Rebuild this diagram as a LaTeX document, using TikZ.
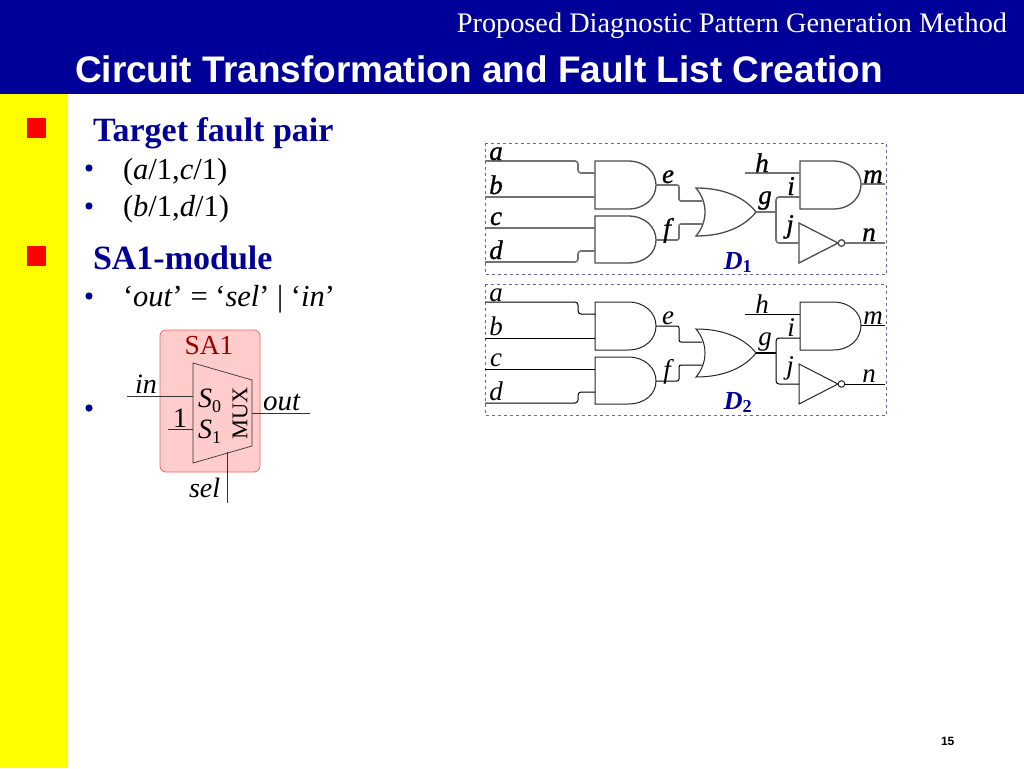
\documentclass[tikz,border=0pt]{standalone}
\usepackage{fontspec}
\setmainfont{Liberation Serif}
\setsansfont{Liberation Sans}
\newfontfamily\heavyserif[FakeBold=1.0]{Liberation Serif}
\definecolor{hdrblue}{HTML}{000099}
\definecolor{sabox}{HTML}{FFCCCC}
\definecolor{saedge}{HTML}{EE6666}
\definecolor{sared}{HTML}{990000}
\definecolor{dashblue}{HTML}{6666AA}
\definecolor{sideyellow}{HTML}{FFFF00}
\newcommand{\fsz}[1]{\fontsize{#1}{#1}\selectfont}
\tikzset{
  txt/.style={inner sep=0pt,outer sep=0pt,anchor=base west},
  ctxt/.style={inner sep=0pt,outer sep=0pt,anchor=base},
  gateline/.style={line width=1pt,draw=black!85},
  wire/.style={line width=1pt,draw=black},
  lab/.style={ctxt,font=\fsz{27}\itshape},
  pics/circuit/.style={code={
    \draw[dashed,draw=dashblue,line width=0.7pt] (485,143) rectangle (886,274.5);
    % pins
    \coordinate (-a) at (485,161); \coordinate (-b) at (485,197);
    \coordinate (-c) at (485,228); \coordinate (-d) at (485,262);
    \coordinate (-h) at (745,173);
    \coordinate (-a1) at (595,173); \coordinate (-a2) at (595,197);
    \coordinate (-b1) at (595,228); \coordinate (-b2) at (595,251);
    \coordinate (-ao) at (656,185); \coordinate (-bo) at (656,240);
    \coordinate (-o1) at (702,201); \coordinate (-o2) at (702,224);
    \coordinate (-oo) at (756,212); \coordinate (-fork) at (776,212);
    \coordinate (-c1) at (800,173); \coordinate (-c2) at (800,197);
    \coordinate (-co) at (861,184); \coordinate (-m) at (885,184);
    \coordinate (-ni) at (799,243); \coordinate (-no) at (845,243); \coordinate (-n) at (885,243);
    % gates
    \draw[gateline] (595,161) -- (628,161) .. controls (645,161) and (656,172) .. (-ao) .. controls (656,198) and (645,209) .. (628,209) -- (595,209) -- cycle;
    \draw[gateline] (595,216) -- (628,216) .. controls (645,216) and (656,227) .. (-bo) .. controls (656,253) and (645,263) .. (628,263) -- (595,263) -- cycle;
    \draw[gateline] (800,161) -- (833,161) .. controls (850,161) and (861,172) .. (-co) .. controls (861,198) and (850,209) .. (833,209) -- (800,209) -- cycle;
    \draw[gateline] (696,188) .. controls (725,188) and (745,198) .. (-oo) .. controls (745,226) and (725,236) .. (696,236) .. controls (708,222) and (708,202) .. (696,188) -- cycle;
    \draw[gateline] (799,223) -- (838,243) -- (799,263) -- cycle;
    \draw[gateline,fill=white] (841.5,243) circle (3.3);
    % wires
    \draw[wire,rounded corners=3pt] (-a) -- (578,161) -- (578,173) -- (-a1);
    \draw[wire] (-b) -- (-a2);
    \draw[wire] (-c) -- (-b1);
    \draw[wire,rounded corners=3pt] (-d) -- (578,262) -- (578,251) -- (-b2);
    \draw[wire,rounded corners=2pt] (-ao) -- (679,185) -- (679,201) -- (-o1);
    \draw[wire,rounded corners=2pt] (-bo) -- (679,240) -- (679,224) -- (-o2);
    \draw[wire,line width=1.5pt] (-oo) -- (-fork);
    \draw[wire,rounded corners=3pt] (-c2) -- (776,197) -- (776,243) -- (-ni);
    \draw[wire] (-h) -- (-c1);
    \draw[wire] (-co) -- (-m);
    \draw[wire] (-no) -- (-n);
    % labels
    \node[lab] (-la) at (496,160) {a};
    \node[lab] (-lb) at (496,194) {b};
    \node[lab] (-lc) at (496,225) {c};
    \node[lab] (-ld) at (496,259) {d};
    \node[lab] (-le) at (668,183) {e};
    \node[lab] (-lf) at (667,237) {f};
    \node[lab] (-lg) at (765,204) {g};
    \node[lab] (-lh) at (762,172) {h};
    \node[lab] (-li) at (791,195) {i};
    \node[lab] (-lj) at (790,233) {j};
    \node[lab] (-lm) at (873,183) {m};
    \node[lab] (-ln) at (869,241) {n};
  }},
}
\begin{document}
\begin{tikzpicture}[x=1pt,y=-1pt]
\useasboundingbox (0,0) rectangle (1024,768);
\fill[white] (0,0) rectangle (1024,768);
\fill[hdrblue] (0,0) rectangle (1024,94);
\fill[sideyellow] (0,94) rectangle (68,768);
\node[txt,anchor=base east,text=white,font=\fsz{28.3}] (subtitle) at (1007,33) {Proposed Diagnostic Pattern Generation Method};
\node[txt,text=white,font=\sffamily\bfseries\fsz{37}] (title) at (75,82) {Circuit Transformation and Fault List Creation};
% bullets
\fill[red] (27,118) rectangle (46,137.5);
\fill[red] (27,246) rectangle (46,265.5);
\node[txt,text=hdrblue,font=\bfseries\fsz{34}] (t1) at (93,141) {Target fault pair};
\node[txt,text=hdrblue,font=\bfseries\fsz{34}] (t2) at (93,269) {SA1-module};
\foreach \n/\y in {b1/168,b2/206,b3/296,b4/408}
  \fill[hdrblue] (89,\y) circle (3.6);
\node[txt,font=\fsz{30.5}] (i1) at (123,179) {(\textit{a}/1,\textit{c}/1)};
\node[txt,font=\fsz{30.5}] (i2) at (123,216) {(\textit{b}/1,\textit{d}/1)};
\node[txt,font=\fsz{30.5}] (i3) at (123,306) {‘\textit{out}’ = ‘\textit{sel}’ | ‘\textit{in}’};
% SA1 module
\node[draw=saedge,fill=sabox,rounded corners=6pt,line width=0.8pt,minimum width=100pt,minimum height=142pt,inner sep=0pt] (sabox) at (210,401) {};
\node[ctxt,text=sared,font=\fsz{27.5}] (salabel) at (209,354) {SA1};
\coordinate (mi0) at (193,396); \coordinate (mi1) at (193,429);
\coordinate (mo) at (252,413); \coordinate (ms) at (227,452);
\coordinate (inend) at (127,396); \coordinate (oneend) at (168,429);
\coordinate (outend) at (310,413); \coordinate (selend) at (227,503);
\draw[line width=0.7pt,draw=black!80] (193,363) -- (252,380) -- (252,446) -- (193,463) -- cycle;
\draw[line width=0.7pt,draw=black!80] (inend) -- (mi0);
\draw[line width=0.7pt,draw=black!80] (oneend) -- (mi1);
\draw[line width=0.7pt,draw=black!80] (mo) -- (outend);
\draw[line width=0.7pt,draw=black!80] (ms) -- (selend);
\node[txt,font=\fsz{28}\itshape] (lin) at (135,393) {in};
\node[ctxt,font=\fsz{28}] (lone) at (180,427) {1};
\node[txt,font=\fsz{28}] (ls0) at (198,407) {\textit{S}\raisebox{-0.2em}{\fsz{18}0}};
\node[txt,font=\fsz{28}] (ls1) at (198,438) {\textit{S}\raisebox{-0.2em}{\fsz{18}1}};
\node[inner sep=0pt,rotate=90,font=\fsz{22.5}] (lmux) at (240,413) {MUX};
\node[txt,font=\fsz{29}\itshape] (lout) at (263,410) {out};
\node[txt,font=\fsz{28}\itshape] (lsel) at (189,497) {sel};
% circuits
\begin{scope}[gateline/.style={line width=1.3pt,draw=black!70},wire/.style={line width=1.6pt,draw=black!55},lab/.style={ctxt,font=\heavyserif\fsz{27}\itshape}]
\pic (dup) at (0,0) {circuit};
\end{scope}
\node[ctxt,text=hdrblue,font=\bfseries\itshape\fsz{26}] (dl1) at (738,269) {D\textsubscript{\upshape 1}};
\pic (dlo) at (0,141) {circuit};
\node[ctxt,text=hdrblue,font=\bfseries\itshape\fsz{26}] (dl2) at (738,409) {D\textsubscript{\upshape 2}};
\node[txt,font=\sffamily\bfseries\fsz{12}] (pg) at (941,745) {15};
\end{tikzpicture}
\end{document}
